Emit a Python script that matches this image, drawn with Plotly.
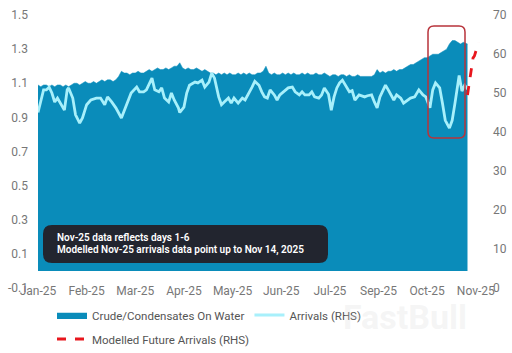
import plotly.graph_objects as go
import pandas as pd

start = pd.Timestamp("2025-01-01")

# ---- x-axis tick labels (every 35 days, as in the source chart) ----
tick_labels = ["Jan-25", "Feb-25", "Mar-25", "Apr-25", "May-25",
               "Jun-25", "Jul-25", "Sep-25", "Oct-25", "Nov-25"]
tick_step_days = 35

# ---- Crude/Condensates On Water (LHS), sampled every 2 days, Jan 1 .. Nov 6 ----
cow_days = list(range(0, 309, 2)) + [309]
cow_values = [
    1.09, 1.08, 1.09, 1.09, 1.08, 1.09, 1.08, 1.09, 1.09, 1.08,
    1.09, 1.08, 1.09, 1.10, 1.10, 1.09, 1.10, 1.11, 1.10, 1.10,
    1.11, 1.10, 1.11, 1.12, 1.11, 1.12, 1.12, 1.11, 1.12, 1.14,
    1.17, 1.16, 1.16, 1.15, 1.16, 1.16, 1.17, 1.16, 1.16, 1.17,
    1.18, 1.17, 1.18, 1.19, 1.18, 1.18, 1.19, 1.18, 1.19, 1.20,
    1.20, 1.22, 1.19, 1.18, 1.19, 1.18, 1.18, 1.19, 1.18, 1.17,
    1.18, 1.17, 1.16, 1.16, 1.15, 1.16, 1.15, 1.16, 1.15, 1.16,
    1.15, 1.15, 1.16, 1.15, 1.16, 1.15, 1.16, 1.15, 1.15, 1.16,
    1.16, 1.17, 1.20, 1.16, 1.15, 1.16, 1.15, 1.15, 1.16, 1.15,
    1.16, 1.15, 1.16, 1.15, 1.15, 1.16, 1.15, 1.16, 1.15, 1.15,
    1.16, 1.15, 1.15, 1.16, 1.15, 1.14, 1.15, 1.15, 1.14, 1.15,
    1.15, 1.14, 1.15, 1.14, 1.14, 1.15, 1.14, 1.14, 1.14, 1.14,
    1.14, 1.15, 1.18, 1.16, 1.17, 1.16, 1.17, 1.17, 1.18, 1.17,
    1.18, 1.18, 1.19, 1.20, 1.21, 1.21, 1.22, 1.23, 1.24, 1.25,
    1.25, 1.26, 1.27, 1.27, 1.27, 1.28, 1.29, 1.30, 1.33, 1.35,
    1.35, 1.34, 1.33, 1.34, 1.33, 1.33,
]

# ---- Arrivals (RHS) ----
arr_days = [0, 4, 6, 8, 10, 12, 14, 17, 19, 21, 22, 25, 27, 30, 32, 35, 38, 42, 45, 48,
            50, 53, 56, 60, 63, 67, 71, 73, 76, 78, 82, 84, 87, 89, 91, 94, 96, 98, 101, 102,
            105, 107, 109, 113, 115, 118, 120, 123, 125, 127, 130, 132, 134, 137, 139, 141, 144, 147, 149, 152,
            154, 156, 159, 161, 163, 165, 167, 170, 172, 174, 177, 180, 183, 185, 188, 190, 192, 195, 197, 199,
            202, 204, 206, 209, 211, 213, 215, 217, 219, 222, 224, 226, 228, 231, 235, 237, 240, 242, 244, 246,
            250, 252, 254, 256, 258, 261, 263, 266, 268, 271, 274, 277, 279, 282, 284, 286, 289, 291, 293, 296,
            298, 300, 302, 303, 305, 307, 309]
arr_values = [45.0, 50.8, 50.8, 51.5, 50.0, 47.7, 48.7, 47.0, 45.6, 50.8, 51.3, 48.7, 44.4, 42.3, 43.6, 47.0, 48.2, 48.7, 48.7, 47.0,
              49.0, 47.7, 46.2, 43.6, 46.2, 50.0, 51.5, 50.3, 50.3, 50.8, 53.8, 50.8, 50.3, 51.3, 48.7, 47.7, 50.0, 48.2, 46.2, 45.0,
              46.4, 50.0, 52.0, 52.8, 52.6, 53.3, 51.5, 52.8, 55.1, 53.8, 49.0, 47.0, 47.7, 48.7, 47.4, 48.7, 47.4, 48.7, 48.2, 50.0,
              51.5, 53.0, 52.0, 50.3, 49.0, 48.7, 50.8, 49.5, 48.2, 49.5, 50.3, 51.3, 51.5, 50.3, 49.5, 50.3, 49.5, 49.5, 50.3, 49.0,
              48.7, 49.5, 51.3, 49.7, 45.6, 49.0, 51.3, 52.6, 53.3, 51.5, 50.3, 50.6, 48.2, 49.5, 49.0, 49.3, 49.5, 47.7, 46.2, 49.0,
              52.0, 50.8, 49.5, 48.2, 49.5, 48.7, 47.4, 48.2, 48.7, 49.0, 50.8, 49.5, 49.0, 46.2, 50.8, 52.6, 51.3, 47.4, 43.0, 41.0,
              43.0, 47.4, 52.6, 54.5, 50.5, 52.0, 51.0]

# ---- Modelled Future Arrivals (RHS), Nov 6 .. Nov 14 ----
fut_days = [309, 310, 311, 312, 313, 314, 315, 316, 317]
fut_values = [49.5, 52.0, 54.5, 57.5, 59.0, 59.5, 60.5, 61.5, 63.0]

left_ticks = [-0.1, 0.1, 0.3, 0.5, 0.7, 0.9, 1.1, 1.3, 1.5]
right_ticks = [0, 10, 20, 30, 40, 50, 60, 70]

note_lines = ["Nov-25 data reflects days 1-6",
              "Modelled Nov-25 arrivals data point up to Nov 14, 2025"]

BLUE = "#0a8cba"
CYAN = "#a8f0fb"
RED = "#e8161d"
GREY = "#777777"
FONT = "Roboto"


def to_dates(days):
    return [start + pd.Timedelta(days=d) for d in days]


fig = go.Figure()
fig.add_trace(go.Scatter(
    x=to_dates(cow_days), y=cow_values, name="Crude/Condensates On Water",
    mode="lines", fill="tozeroy", fillcolor=BLUE, line=dict(color=BLUE, width=0.5),
    legend="legend",
))
fig.add_trace(go.Scatter(
    x=to_dates(arr_days), y=arr_values, name="Arrivals (RHS)", yaxis="y2",
    mode="lines", line=dict(color=CYAN, width=2.8), legend="legend",
))
fig.add_trace(go.Scatter(
    x=to_dates(fut_days), y=fut_values, name="Modelled Future Arrivals (RHS)", yaxis="y2",
    mode="lines", line=dict(color=RED, width=2.8, dash="dash"), legend="legend2",
    cliponaxis=False,
))

# plot-area geometry (pixels) used for overlay shapes
L, R, T, B = 38, 480, 15, 288
W, H = R - L, B - T


def px(x):
    return (x - L) / W


def py(y):
    return (B - y) / H


def rounded(x0, y0, x1, y1, r):
    X0, X1, Y0, Y1 = px(x0), px(x1), py(y0), py(y1)
    rx, ry = r / W, r / H
    return (f"M{X0 + rx},{Y0} L{X1 - rx},{Y0} Q{X1},{Y0} {X1},{Y0 - ry} "
            f"L{X1},{Y1 + ry} Q{X1},{Y1} {X1 - rx},{Y1} L{X0 + rx},{Y1} "
            f"Q{X0},{Y1} {X0},{Y1 + ry} L{X0},{Y0 - ry} Q{X0},{Y0} {X0 + rx},{Y0} Z")


shapes = [
    dict(type="path", xref="paper", yref="paper", path=rounded(428, 26, 465, 138, 6),
         line=dict(color="#b8333b", width=1.5), fillcolor="rgba(0,0,0,0)", layer="above"),
    dict(type="path", xref="paper", yref="paper", path=rounded(43, 225, 328, 263, 9),
         line=dict(width=0), fillcolor="#22252f", layer="above"),
]

annotations = [
    dict(xref="paper", yref="paper", x=px(55), y=py(yy), xanchor="left", yanchor="middle",
         align="left", showarrow=False, text=line,
         font=dict(family=FONT, size=10, color="white", weight=600))
    for line, yy in zip(note_lines, [237.5, 249.5])
] + [
    dict(xref="paper", yref="paper", x=px(405), y=py(317), xanchor="center", yanchor="middle",
         showarrow=False, text="FastBull",
         font=dict(family=FONT, size=34, color="rgba(220,220,220,0.3)", weight=700)),
]

fig.update_layout(
    width=512, height=353,
    margin=dict(l=L, r=512 - R, t=T, b=353 - B, autoexpand=False),
    paper_bgcolor="white", plot_bgcolor="white",
    font=dict(family=FONT, color=GREY, size=12),
    xaxis=dict(
        type="date",
        range=[start, start + pd.Timedelta(days=318)],
        tickvals=to_dates([i * tick_step_days for i in range(len(tick_labels))]),
        ticktext=tick_labels,
        showgrid=False, zeroline=False, showline=False, ticks="",
        ticklabelstandoff=-6,
        tickfont=dict(size=12, color=GREY),
    ),
    yaxis=dict(
        range=[-0.1, 1.5], tickvals=left_ticks, ticktext=[f"{v:.1f}" for v in left_ticks],
        showgrid=False, zeroline=False, showline=False, ticks="",
        ticklabelstandoff=9, tickfont=dict(size=12, color=GREY),
    ),
    yaxis2=dict(
        range=[0, 70], tickvals=right_ticks, ticktext=[str(v) for v in right_ticks],
        overlaying="y", side="right",
        showgrid=False, zeroline=False, showline=False, ticks="",
        ticklabelstandoff=12, tickfont=dict(size=12, color=GREY),
    ),
    legend=dict(orientation="h", x=px(52), y=py(315), xanchor="left", yanchor="middle",
                font=dict(family=FONT, size=11.5, color="#555555"), bgcolor="rgba(0,0,0,0)"),
    legend2=dict(orientation="h", x=px(52), y=py(339), xanchor="left", yanchor="middle",
                 font=dict(family=FONT, size=11.5, color="#555555"), bgcolor="rgba(0,0,0,0)"),
    shapes=shapes,
    annotations=annotations,
    showlegend=True,
)

fig.write_html("out.html")
